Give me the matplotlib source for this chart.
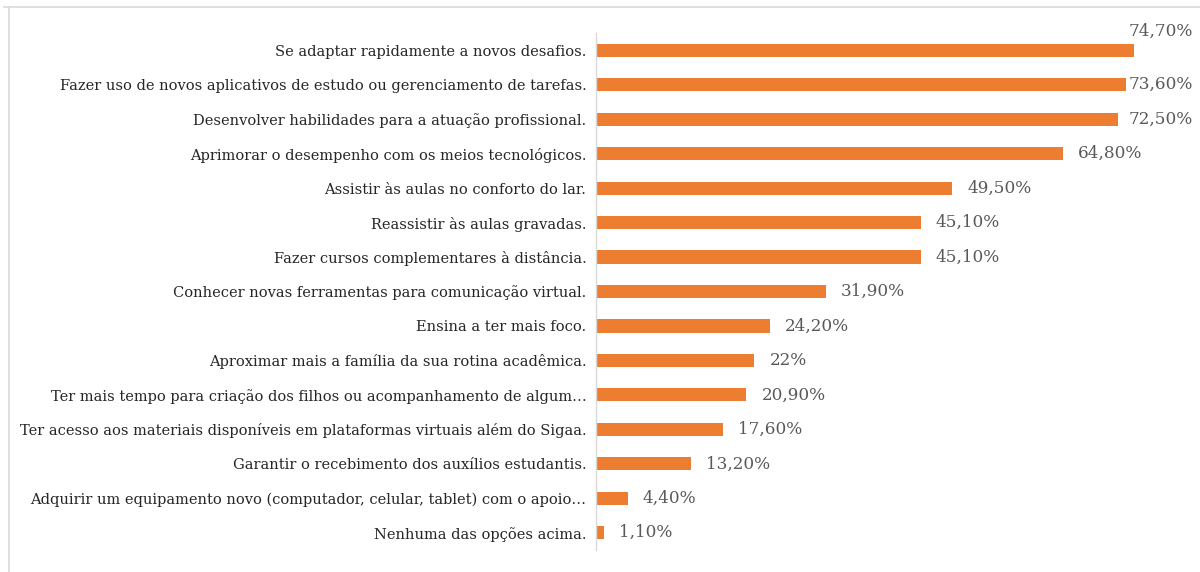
import matplotlib
matplotlib.use("Agg")
import matplotlib.pyplot as plt
from matplotlib.lines import Line2D

categories = [
    "Se adaptar rapidamente a novos desafios.",
    "Fazer uso de novos aplicativos de estudo ou gerenciamento de tarefas.",
    "Desenvolver habilidades para a atuação profissional.",
    "Aprimorar o desempenho com os meios tecnológicos.",
    "Assistir às aulas no conforto do lar.",
    "Reassistir às aulas gravadas.",
    "Fazer cursos complementares à distância.",
    "Conhecer novas ferramentas para comunicação virtual.",
    "Ensina a ter mais foco.",
    "Aproximar mais a família da sua rotina acadêmica.",
    "Ter mais tempo para criação dos filhos ou acompanhamento de algum…",
    "Ter acesso aos materiais disponíveis em plataformas virtuais além do Sigaa.",
    "Garantir o recebimento dos auxílios estudantis.",
    "Adquirir um equipamento novo (computador, celular, tablet) com o apoio…",
    "Nenhuma das opções acima.",
]
values = [74.7, 73.6, 72.5, 64.8, 49.5, 45.1, 45.1, 31.9, 24.2, 22.0, 20.9, 17.6, 13.2, 4.4, 1.1]
value_labels = ["74,70%", "73,60%", "72,50%", "64,80%", "49,50%", "45,10%", "45,10%",
                "31,90%", "24,20%", "22%", "20,90%", "17,60%", "13,20%", "4,40%", "1,10%"]

W, H = 1200, 572
fig = plt.figure(figsize=(12, 5.72), dpi=100)
ax_left, ax_right = 596, 1193
ax_top, ax_bot = 33, 550
ax = fig.add_axes([ax_left / W, 1 - ax_bot / H, (ax_right - ax_left) / W, (ax_bot - ax_top) / H])

bar_color = "#ED7D31"
ypos = list(range(len(categories)))
ax.barh(ypos, values, height=0.38, color=bar_color)
xmax = (ax_right - ax_left) / 7.2
ax.set_xlim(0, xmax)
ax.set_ylim(len(categories) - 0.5, -0.5)

ax.set_yticks(ypos)
ax.set_yticklabels(categories, fontsize=10.5, color="#262626", family="DejaVu Serif")
ax.tick_params(axis="y", length=0, pad=7)
ax.set_xticks([])
for s in ["top", "right", "bottom"]:
    ax.spines[s].set_visible(False)
ax.spines["left"].set_color("#D9D9D9")
ax.spines["left"].set_linewidth(1.0)

fig.canvas.draw()
renderer = fig.canvas.get_renderer()
px_per_unit = (ax_right - ax_left) / xmax
for i, (v, lab) in enumerate(zip(values, value_labels)):
    t = ax.text(v + 15 / px_per_unit, i, lab, fontsize=12.2, color="#595959",
                family="DejaVu Serif", va="center", ha="left", clip_on=False)
    bb = t.get_window_extent(renderer)
    if bb.x1 > ax.get_window_extent(renderer).x1 + 4:
        t.set_ha("right")
        if i == 0:
            t.set_position((xmax, i - 0.55))
        else:
            t.set_position((xmax, i))

# outer frame lines (top and left)
fig.add_artist(Line2D([4 / W, 1], [1 - 7 / H, 1 - 7 / H], transform=fig.transFigure,
                      color="#D9D9D9", lw=1.2))
fig.add_artist(Line2D([9 / W, 9 / W], [0, 1 - 7 / H], transform=fig.transFigure,
                      color="#D9D9D9", lw=1.2))

fig.savefig("out.png", dpi=100, facecolor="white")
